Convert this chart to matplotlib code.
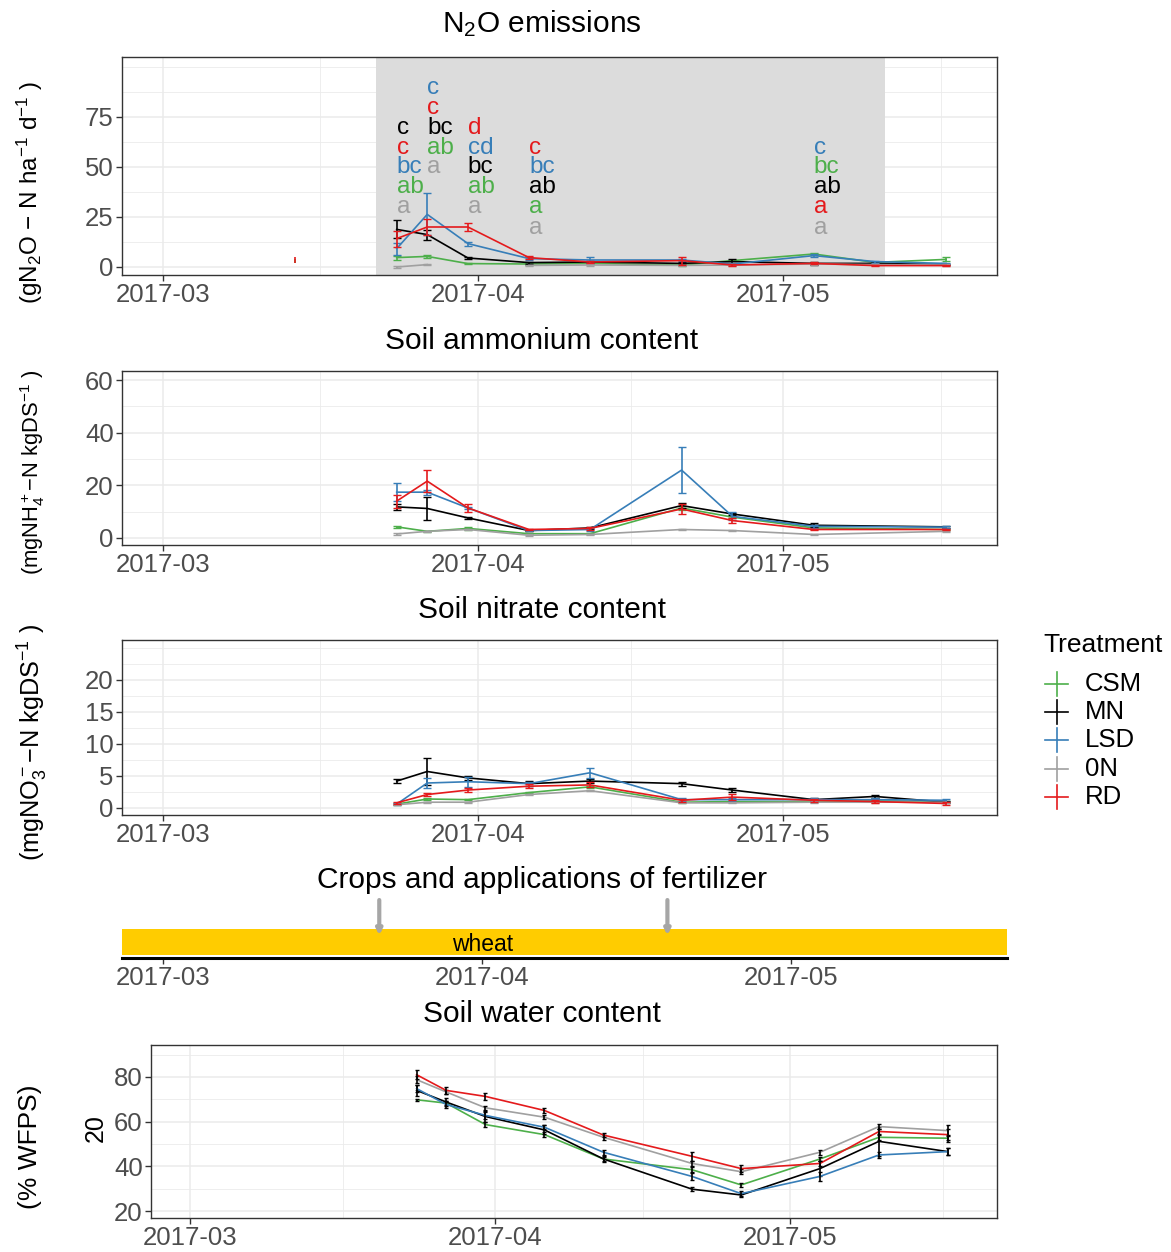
import numpy as np
import pandas as pd
import matplotlib
matplotlib.use('Agg')
import matplotlib.pyplot as plt
import matplotlib.dates as mdates
from matplotlib.lines import Line2D

plt.rcParams['font.family'] = ['Liberation Sans', 'DejaVu Sans']
plt.rcParams['mathtext.fontset'] = 'custom'
plt.rcParams['mathtext.rm'] = 'Liberation Sans'
plt.rcParams['mathtext.it'] = 'Liberation Sans:italic'
plt.rcParams['mathtext.bf'] = 'Liberation Sans:bold'
plt.rcParams['mathtext.default'] = 'regular'

# ---------------- data ----------------
treatments = ['CSM', 'MN', 'LSD', '0N', 'RD']
colors = {'CSM': '#4DAF4A', 'MN': '#000000', 'LSD': '#377EB8', '0N': '#A0A0A0', 'RD': '#E41A1C'}

x_limits = ['2017-02-25', '2017-05-22']
x_major = ['2017-03-01', '2017-04-01', '2017-05-01']
x_minor = ['2017-03-16 12:00', '2017-04-16 00:00', '2017-05-16 12:00']

# N2O emissions
n2o_dates = ['2017-03-24', '2017-03-27', '2017-03-31', '2017-04-06', '2017-04-12',
             '2017-04-21', '2017-04-26', '2017-05-04', '2017-05-10', '2017-05-17']
n2o = {
    'CSM': [4.7, 5.3, 1.7, 1.5, 1.8, 1.0, 3.2, 6.5, 2.3, 3.8],
    'MN':  [18.8, 16.2, 4.5, 2.2, 2.5, 1.8, 2.7, 1.8, 1.8, 1.2],
    'LSD': [9.2, 26.3, 11.7, 4.2, 3.5, 3.5, 1.5, 5.7, 2.7, 1.8],
    '0N':  [0.0, 1.2, np.nan, 0.8, 1.0, 0.8, 1.0, 1.5, 1.2, 1.0],
    'RD':  [14.2, 20.0, 20.0, 4.7, 2.5, 3.2, 1.0, 1.8, 0.7, 0.7],
}
n2o_err = {
    'CSM': [1.0, 0.8, 0.3, 0.3, 0.3, 0.3, 0.3, 0.5, 0.3, 1.0],
    'MN':  [4.5, 2.5, 0.5, 0.5, 0.5, 0.5, 1.2, 0.8, 0.5, 0.3],
    'LSD': [3.0, 10.5, 1.0, 0.8, 1.5, 0.5, 0.5, 0.8, 0.5, 0.3],
    '0N':  [0.3, 0.3, np.nan, 0.3, 0.3, 0.3, 0.3, 0.3, 0.3, 0.3],
    'RD':  [4.0, 4.0, 2.0, 0.8, 0.5, 2.0, 0.5, 0.5, 0.3, 0.3],
}
n2o_pre_date = '2017-03-14'
n2o_pre_val = {'CSM': 3.0, 'RD': 3.6}
n2o_pre_err = {'CSM': 0.8, 'RD': 1.4}
measure_period = ['2017-03-22', '2017-05-11']

letter_dates = ['2017-03-24', '2017-03-27', '2017-03-31', '2017-04-06', '2017-05-04']
letters = [
    [('MN', 'c', 69.5), ('RD', 'c', 59.5), ('LSD', 'bc', 50), ('CSM', 'ab', 40), ('0N', 'a', 30)],
    [('LSD', 'c', 89.5), ('RD', 'c', 79.5), ('MN', 'bc', 69.5), ('CSM', 'ab', 59.5), ('0N', 'a', 50)],
    [('RD', 'd', 69.5), ('LSD', 'cd', 59.5), ('MN', 'bc', 50), ('CSM', 'ab', 40), ('0N', 'a', 30)],
    [('RD', 'c', 59.5), ('LSD', 'bc', 50), ('MN', 'ab', 40), ('CSM', 'a', 30), ('0N', 'a', 19.5)],
    [('LSD', 'c', 59.5), ('CSM', 'bc', 50), ('MN', 'ab', 40), ('RD', 'a', 30), ('0N', 'a', 19.5)],
]

# Soil ammonium
nh4_dates = ['2017-03-24', '2017-03-27', '2017-03-31', '2017-04-06', '2017-04-12',
             '2017-04-21', '2017-04-26', '2017-05-04', '2017-05-17']
nh4 = {
    'CSM': [4.2, 2.5, 3.6, 1.6, 1.6, 11.4, 7.9, 3.8, 3.2],
    'MN':  [11.8, 11.2, 7.6, 2.8, 3.8, 12.3, 9.1, 4.8, 4.2],
    'LSD': [17.4, 17.4, 11.4, 2.8, 3.2, 25.8, 8.2, 4.4, 4.1],
    '0N':  [1.5, 2.5, 3.2, 1.0, 1.3, 3.2, 2.8, 1.3, 2.5],
    'RD':  [14.0, 21.6, 11.4, 3.2, 3.6, 11.0, 6.6, 3.2, 3.2],
}
nh4_err = {
    'CSM': [0.5, 0.3, 0.5, 0.3, 0.3, 0.8, 0.5, 0.3, 0.3],
    'MN':  [1.0, 4.5, 0.5, 0.3, 0.5, 1.0, 0.5, 0.8, 0.3],
    'LSD': [3.5, 1.0, 0.5, 0.3, 0.5, 8.7, 1.5, 0.5, 0.3],
    '0N':  [0.3, 0.3, 0.3, 0.3, 0.3, 0.3, 0.3, 0.3, 0.3],
    'RD':  [2.5, 4.3, 1.5, 0.3, 0.5, 2.0, 0.8, 0.3, 0.3],
}

# Soil nitrate
no3_dates = ['2017-03-24', '2017-03-27', '2017-03-31', '2017-04-06', '2017-04-12',
             '2017-04-21', '2017-04-26', '2017-05-04', '2017-05-10', '2017-05-17']
no3 = {
    'CSM': [0.6, 1.4, 1.3, 2.4, 3.3, 0.9, 1.0, 1.0, 1.1, 1.0],
    'MN':  [4.2, 5.7, 4.7, 3.8, 4.2, 3.8, 2.8, 1.3, 1.8, 0.9],
    'LSD': [0.6, 3.9, 4.1, 3.8, 5.5, 1.3, 1.3, 1.3, 1.3, 1.2],
    '0N':  [0.5, 0.9, 0.9, 2.1, 2.7, 0.8, 0.8, 0.9, 0.9, 0.9],
    'RD':  [0.8, 2.1, 2.8, 3.4, 3.6, 1.2, 1.7, 1.2, 1.0, 0.7],
}
no3_err = {
    'CSM': [0.1, 0.1, 0.1, 0.1, 0.2, 0.1, 0.1, 0.1, 0.1, 0.1],
    'MN':  [0.3, 2.1, 0.3, 0.4, 0.3, 0.3, 0.3, 0.2, 0.3, 0.2],
    'LSD': [0.2, 0.8, 0.8, 0.3, 0.8, 0.2, 0.2, 0.2, 0.2, 0.2],
    '0N':  [0.1, 0.1, 0.1, 0.1, 0.1, 0.1, 0.1, 0.1, 0.1, 0.1],
    'RD':  [0.2, 0.3, 0.3, 0.3, 0.4, 0.2, 0.5, 0.2, 0.2, 0.2],
}

# Crops and fertilizer
crop_name = 'wheat'
crop_label_date = '2017-04-01'
fert_dates = ['2017-03-22', '2017-04-19']

# Soil water content
wfps_dates = ['2017-03-24', '2017-03-27', '2017-03-31', '2017-04-06', '2017-04-12',
              '2017-04-21', '2017-04-26', '2017-05-04', '2017-05-10', '2017-05-17']
wfps = {
    'CSM': [69.8, 68.3, 58.7, 54.2, 43.3, 38.5, 31.7, 43.3, 53.0, 52.6],
    'MN':  [74.0, 68.8, 62.3, 56.3, 43.3, 29.8, 27.2, 39.0, 51.2, 46.6],
    'LSD': [74.8, 67.7, 62.8, 57.5, 46.3, 35.5, 27.8, 35.5, 45.1, 46.6],
    '0N':  [78.8, 73.3, 66.2, 62.0, 53.0, 41.3, 37.6, 46.3, 57.8, 56.0],
    'RD':  [81.0, 74.0, 71.3, 65.0, 54.0, 44.5, 39.0, 41.3, 55.6, 54.2],
}
wfps_err = {
    'CSM': [0.5, 1.0, 1.0, 1.0, 0.8, 1.0, 1.0, 1.0, 1.0, 1.5],
    'MN':  [2.5, 2.0, 2.5, 2.0, 1.5, 1.0, 1.0, 3.5, 6.5, 1.5],
    'LSD': [1.5, 1.5, 1.5, 1.0, 1.0, 1.5, 1.0, 2.0, 1.5, 1.5],
    '0N':  [1.5, 1.0, 1.0, 1.0, 1.0, 1.0, 1.0, 1.0, 1.0, 2.5],
    'RD':  [2.0, 1.5, 1.5, 1.0, 1.0, 2.0, 1.5, 1.0, 1.0, 2.5],
}

# ---------------- figure ----------------
W, H = 1171, 1252
fig = plt.figure(figsize=(W / 100, H / 100), dpi=100)


def to_dt(lst):
    return pd.to_datetime(lst, format='mixed')


def add_ax(left, right, top, bottom):
    return fig.add_axes([left / W, 1 - bottom / H, (right - left) / W, (bottom - top) / H])


TICK_COL = '#4D4D4D'
EDGE_COL = '#333333'
GRID_COL = '#EBEBEB'
LW = 1.2
TICK_FS = 18.5

xmin, xmax = to_dt(x_limits)


def style(ax, ylim, yticks, yminor):
    ax.set_xlim(xmin, xmax)
    ax.set_ylim(*ylim)
    ax.set_xticks(to_dt(x_major))
    ax.set_xticks(to_dt(x_minor), minor=True)
    ax.xaxis.set_major_formatter(mdates.DateFormatter('%Y-%m'))
    ax.set_yticks(yticks)
    ax.set_yticks(yminor, minor=True)
    ax.grid(which='major', color=GRID_COL, lw=1.1, zorder=0)
    ax.grid(which='minor', color=GRID_COL, lw=0.6, zorder=0)
    ax.set_axisbelow(True)
    ax.tick_params(which='major', length=4, width=1, color=EDGE_COL,
                   labelsize=TICK_FS, labelcolor=TICK_COL, pad=2)
    ax.tick_params(which='minor', length=0)
    for s in ax.spines.values():
        s.set_color(EDGE_COL)
        s.set_linewidth(1.0)


def draw(ax, dates, vals, errs, ecol_override=None, capsize=3.0):
    d = to_dt(dates)
    for t in treatments:
        ax.plot(d, vals[t], color=colors[t], lw=LW, zorder=3)
        ax.errorbar(d, vals[t], yerr=errs[t], fmt='none',
                    ecolor=ecol_override or colors[t], elinewidth=LW,
                    capsize=capsize, capthick=1.0, zorder=3)


# Panel 1: N2O
ax1 = add_ax(122, 997, 57, 275)
style(ax1, (-4, 105), [0, 25, 50, 75], [12.5, 37.5, 62.5, 87.5, 100])
p0, p1 = to_dt(measure_period)
ax1.axvspan(p0, p1, color='#DCDCDC', zorder=1, lw=0)
draw(ax1, n2o_dates, n2o, n2o_err)
for t in ['CSM', 'RD']:
    ax1.errorbar(to_dt([n2o_pre_date]), [n2o_pre_val[t]], yerr=[n2o_pre_err[t]],
                 fmt='none', ecolor=colors[t], elinewidth=LW, capsize=0, zorder=3)
for dstr, col in zip(letter_dates, letters):
    for t, txt, y in col:
        ax1.text(pd.Timestamp(dstr), y, txt, color=colors[t], fontsize=17.5,
                 ha='left', va='center', zorder=4)

# Panel 2: NH4
ax2 = add_ax(122, 997, 371, 545)
style(ax2, (-2.7, 63.5), [0, 20, 40, 60], [10, 30, 50])
draw(ax2, nh4_dates, nh4, nh4_err)

# Panel 3: NO3
ax3 = add_ax(122, 997, 640, 815)
style(ax3, (-1.1, 26.25), [0, 5, 10, 15, 20], [2.5, 7.5, 12.5, 17.5, 22.5, 25])
draw(ax3, no3_dates, no3, no3_err)

# Panel 4: crops
ax4 = add_ax(122, 1007, 895, 958)
ax4.set_xlim(xmin, xmax)
ax4.set_ylim(0, 1)
ax4.axhspan(0.05, 0.46, color='#FFCC00', lw=0, zorder=1)
for s in ['top', 'left', 'right']:
    ax4.spines[s].set_visible(False)
ax4.spines['bottom'].set_color('black')
ax4.spines['bottom'].set_linewidth(2.2)
ax4.set_yticks([])
ax4.set_xticks(to_dt(x_major))
ax4.xaxis.set_major_formatter(mdates.DateFormatter('%Y-%m'))
ax4.tick_params(axis='x', length=4, width=1, color=EDGE_COL, labelsize=TICK_FS,
                labelcolor=TICK_COL, pad=2)
for fd in to_dt(fert_dates):
    ax4.annotate('', xy=(fd, 0.36), xytext=(fd, 0.92),
                 arrowprops=dict(arrowstyle='-|>', color='#A6A6A6', lw=3,
                                 mutation_scale=8, shrinkA=0, shrinkB=0), zorder=3)
ax4.text(pd.Timestamp(crop_label_date), 0.22, crop_name, fontsize=16.5,
         ha='center', va='center', color='black', zorder=4)

# Panel 5: WFPS
ax5 = add_ax(151, 997, 1045, 1218)
style(ax5, (16.9, 94.3), [20, 40, 60, 80], [30, 50, 70, 90])
draw(ax5, wfps_dates, wfps, wfps_err, ecol_override='black', capsize=1.5)

# ---------------- titles & labels ----------------
TITLE_FS = 21.5


def ftext(x, y, s, **kw):
    fig.text(x / W, 1 - y / H, s, **kw)


ftext(542, 24, 'N$_2$O emissions', fontsize=TITLE_FS, ha='center', va='center')
ftext(542, 341, 'Soil ammonium content', fontsize=TITLE_FS, ha='center', va='center')
ftext(542, 610, 'Soil nitrate content', fontsize=TITLE_FS, ha='center', va='center')
ftext(542, 880, 'Crops and applications of fertilizer', fontsize=TITLE_FS, ha='center', va='center')
ftext(542, 1014, 'Soil water content', fontsize=TITLE_FS, ha='center', va='center')

ftext(30, 192, '(gN$_2$O − N ha$^{-1}$ d$^{-1}$ )', fontsize=17.5, rotation=90, ha='center', va='center')
ftext(33, 472, '(mgNH$_4^+$−N kgDS$^{-1}$ )', fontsize=15.8, rotation=90, ha='center', va='center')
ftext(33, 742, '(mgNO$_3^-$−N kgDS$^{-1}$ )', fontsize=18.2, rotation=90, ha='center', va='center')
ftext(30, 1147, '(% WFPS)', fontsize=19, rotation=90, ha='center', va='center')
ftext(96, 1128, '20', fontsize=18, rotation=90, ha='center', va='center')

# ---------------- legend ----------------
ftext(1043, 645, 'Treatment', fontsize=19, ha='left', va='center')
leg_y = [684, 712, 740, 769, 797]
for t, y in zip(treatments, leg_y):
    fig.add_artist(Line2D([1045 / W, 1068 / W], [1 - y / H, 1 - y / H], color=colors[t], lw=LW))
    fig.add_artist(Line2D([1056.5 / W, 1056.5 / W], [1 - (y - 12) / H, 1 - (y + 12) / H],
                          color=colors[t], lw=LW))
    ftext(1085, y, t, fontsize=18.5, ha='left', va='center')

fig.savefig('out.png', dpi=100)
